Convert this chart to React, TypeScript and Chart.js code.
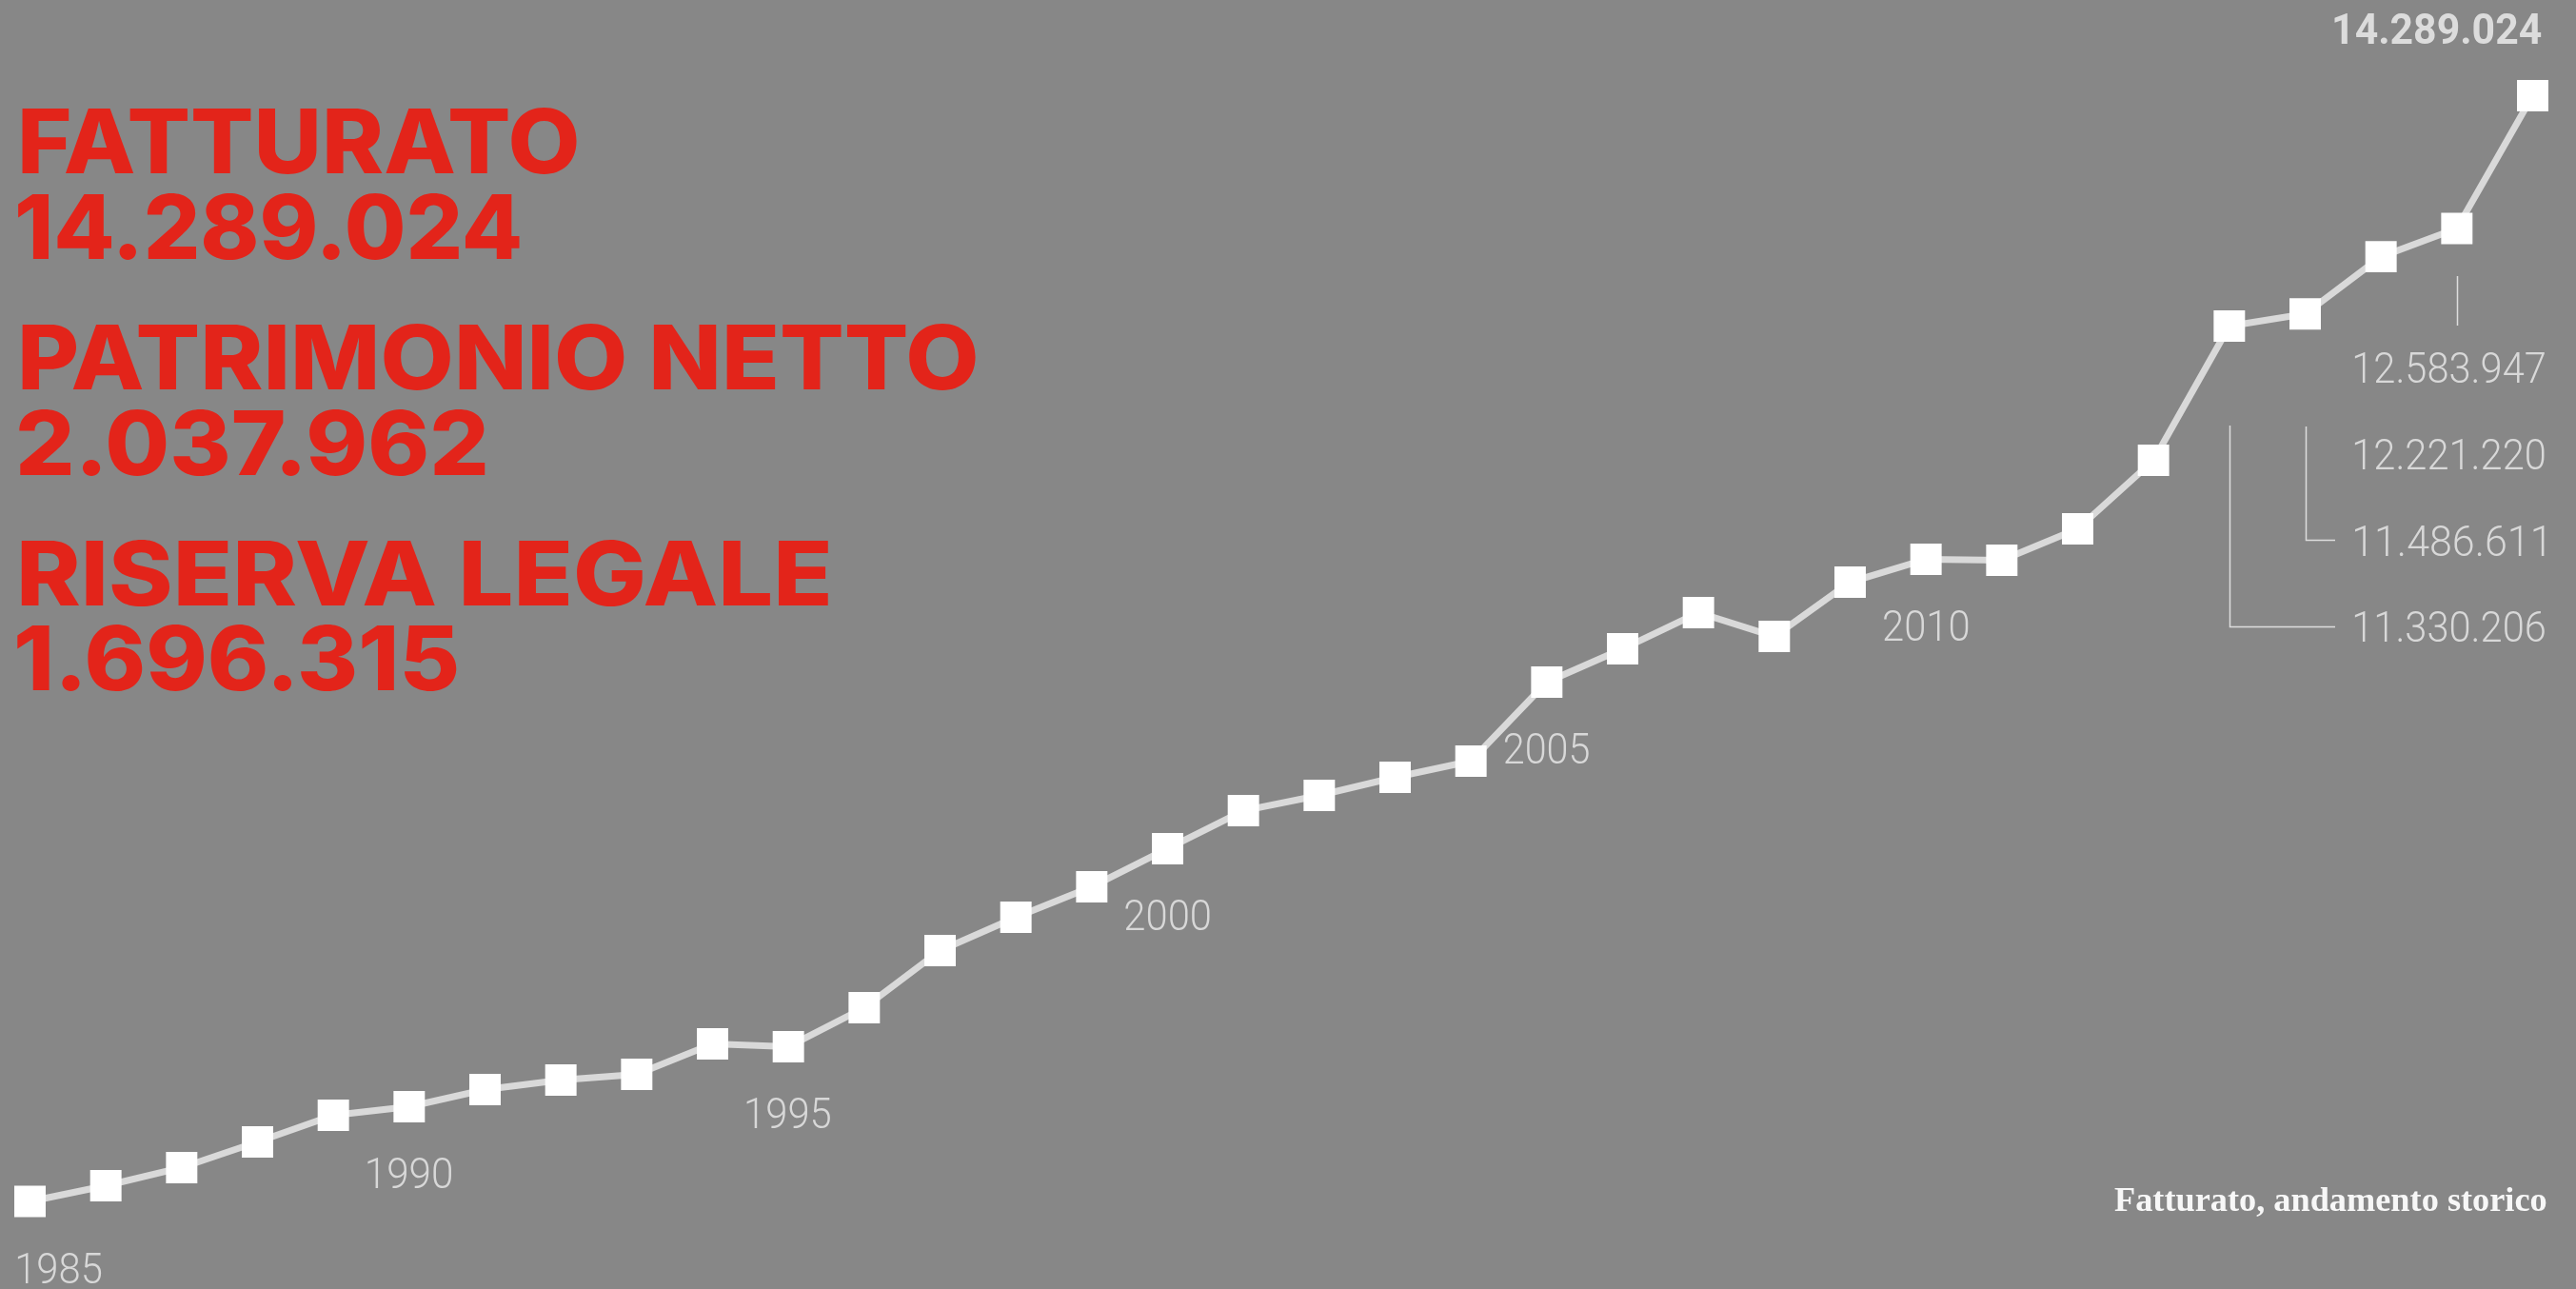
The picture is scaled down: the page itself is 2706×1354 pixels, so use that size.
import React, { useEffect, useMemo, useRef } from 'react';
import { Chart, registerables } from 'chart.js';

Chart.register(...registerables);

// ---------- DATA ----------
const years = [
  1985, 1986, 1987, 1988, 1989, 1990, 1991, 1992, 1993, 1994, 1995, 1996,
  1997, 1998, 1999, 2000, 2001, 2002, 2003, 2004, 2005, 2006, 2007, 2008,
  2009, 2010, 2011, 2012, 2013, 2014, 2015, 2016, 2017, 2018,
];
const fatturato = [
  88000, 290000, 522000, 852000, 1195000, 1305000, 1525000, 1647000, 1720000,
  2111000, 2075000, 2576000, 3310000, 3738000, 4129000, 4618000, 5107000,
  5303000, 5535000, 5743000, 6758000, 7185000, 7650000, 7344000, 8041000,
  8335000, 8323000, 8726000, 9606000, 11330206, 11486611, 12221220, 12583947,
  14289024,
];
const patrimonioNetto = 2037962;
const riservaLegale = 1696315;
const labelledYears = [1985, 1990, 1995, 2000, 2005, 2010];
const calloutYears = [2018, 2017, 2016, 2015, 2014];
const captionText = 'Fatturato, andamento storico';

// ---------- LAYOUT / STYLE ----------
const W = 2706;
const H = 1354;
const BG = '#878787';
const RED = '#e3241a';
const LIGHT = '#d8d8d8';
const X_MIN = 1984.6046;
const X_MAX = 2018.5711;
const Y_MIN = -1036811;
const Y_MAX = 15517780;

const YEAR_FONT = '300 44px Roboto, "DejaVu Sans", sans-serif';
const VALUE_FONT = '300 45px Roboto, "DejaVu Sans", sans-serif';
const BOLD_FONT = 'bold 44px Roboto, "DejaVu Sans", sans-serif';
const HEAD_FAMILY = 'Inter, "Open Sans", "Noto Sans", sans-serif';
const CAPTION_FAMILY = '"Liberation Serif", "DejaVu Serif", serif';

const calloutLayout: Record<number, any> = {
  2018: { baseline: 46, bold: true },
  2017: { baseline: 402, leaderTop: 290, leaderBottom: 342 },
  2016: { baseline: 493 },
  2015: { baseline: 584, leaderTop: 448, elbowY: 567 },
  2014: { baseline: 674, leaderTop: 447, elbowY: 658 },
};

const fmt = (n: number) => String(n).replace(/\B(?=(\d{3})+(?!\d))/g, '.');

function drawFit(
  ctx: CanvasRenderingContext2D,
  text: string,
  font: string,
  left: number,
  baseline: number,
  width: number
) {
  ctx.font = font;
  ctx.textAlign = 'left';
  ctx.textBaseline = 'alphabetic';
  const m = ctx.measureText(text);
  const ink = m.actualBoundingBoxLeft + m.actualBoundingBoxRight;
  const s = width / ink;
  ctx.save();
  ctx.translate(left, baseline);
  ctx.scale(s, 1);
  ctx.fillText(text, m.actualBoundingBoxLeft, 0);
  ctx.restore();
}

const annotationPlugin = {
  id: 'annotations',
  afterDatasetsDraw(chart: any) {
    const ctx: CanvasRenderingContext2D = chart.ctx;
    const xs = chart.scales.x;
    const ys = chart.scales.y;
    ctx.save();
    // year labels
    ctx.fillStyle = LIGHT;
    labelledYears.forEach((yr) => {
      const i = years.indexOf(yr);
      const px = xs.getPixelForValue(yr);
      const py = ys.getPixelForValue(fatturato[i]);
      const w = 88.5;
      const left = Math.max(18, px - w / 2);
      drawFit(ctx, String(yr), YEAR_FONT, left, py + 86, w);
    });
    // callouts
    calloutYears.forEach((yr) => {
      const i = years.indexOf(yr);
      const cfg = calloutLayout[yr];
      const px = Math.round(xs.getPixelForValue(yr)) + 0.5;
      const text = fmt(fatturato[i]);
      ctx.fillStyle = cfg.bold ? '#dcdcdc' : LIGHT;
      if (cfg.bold) drawFit(ctx, text, BOLD_FONT, 2452, cfg.baseline, 218);
      else drawFit(ctx, text, VALUE_FONT, 2473, cfg.baseline, 200);
      ctx.strokeStyle = '#dddddd';
      ctx.lineWidth = 1.5;
      if (cfg.leaderBottom) {
        ctx.beginPath();
        ctx.moveTo(px, cfg.leaderTop);
        ctx.lineTo(px, cfg.leaderBottom);
        ctx.stroke();
      } else if (cfg.elbowY) {
        ctx.beginPath();
        ctx.moveTo(px, cfg.leaderTop);
        ctx.lineTo(px, cfg.elbowY + 0.5);
        ctx.lineTo(2453, cfg.elbowY + 0.5);
        ctx.stroke();
      }
    });
    ctx.restore();
  },
};

function measure(text: string, font: string) {
  const c = document.createElement('canvas').getContext('2d')!;
  c.font = font;
  return c.measureText(text);
}

function fitLine(
  text: string,
  weight: string,
  family: string,
  cap: number,
  left: number,
  baseline: number,
  width: number
) {
  const capRatio = measure('H', `${weight} 100px ${family}`).actualBoundingBoxAscent / 100;
  const fs = cap / capRatio;
  const font = `${weight} ${fs}px ${family}`;
  const m = measure(text, font);
  const ink = m.actualBoundingBoxLeft + m.actualBoundingBoxRight;
  const s = width / ink;
  const A = m.fontBoundingBoxAscent;
  const D = m.fontBoundingBoxDescent;
  return {
    text,
    style: {
      position: 'absolute' as const,
      left: left + m.actualBoundingBoxLeft * s,
      top: baseline - A,
      font,
      lineHeight: `${A + D}px`,
      whiteSpace: 'nowrap' as const,
      transform: `scaleX(${s})`,
      transformOrigin: 'left top',
      margin: 0,
    },
  };
}

export default function App() {
  const ref = useRef<HTMLCanvasElement>(null);

  useEffect(() => {
    const chart = new Chart(ref.current!, {
      type: 'line',
      data: {
        datasets: [
          {
            data: years.map((y, i) => ({ x: y, y: fatturato[i] })),
            borderColor: '#d9d9d9',
            borderWidth: 7,
            tension: 0,
            pointStyle: 'rect',
            pointRadius: 23.3,
            pointHoverRadius: 23.3,
            pointBackgroundColor: '#ffffff',
            pointBorderWidth: 0,
            clip: false as any,
          },
        ],
      },
      options: {
        animation: false,
        responsive: false,
        maintainAspectRatio: false,
        devicePixelRatio: 1,
        events: [],
        layout: { padding: 0, autoPadding: false },
        plugins: { legend: { display: false }, tooltip: { enabled: false } },
        scales: {
          x: { type: 'linear', display: false, min: X_MIN, max: X_MAX },
          y: { type: 'linear', display: false, min: Y_MIN, max: Y_MAX },
        },
      },
      plugins: [annotationPlugin],
    });
    return () => chart.destroy();
  }, []);

  const lines = useMemo(() => {
    const head = [
      fitLine('FATTURATO', '800', HEAD_FAMILY, 68, 23, 182, 583),
      fitLine(fmt(fatturato[fatturato.length - 1]), '800', HEAD_FAMILY, 68, 19, 272, 527),
      fitLine('PATRIMONIO NETTO', '800', HEAD_FAMILY, 68, 23, 409, 1002),
      fitLine(fmt(patrimonioNetto), '800', HEAD_FAMILY, 68, 20, 499, 489),
      fitLine('RISERVA LEGALE', '800', HEAD_FAMILY, 68, 23, 636, 848),
      fitLine(fmt(riservaLegale), '800', HEAD_FAMILY, 68, 18, 725, 461),
    ];
    const cap = fitLine(captionText, 'bold', CAPTION_FAMILY, 23, 2221, 1272, 454);
    return { head, cap };
  }, []);

  return (
    <div
      style={{
        position: 'fixed',
        left: 0,
        top: 0,
        width: W,
        height: H,
        background: BG,
        overflow: 'hidden',
      }}
    >
      <canvas
        ref={ref}
        width={W}
        height={H}
        style={{ position: 'absolute', left: 0, top: 0, width: W, height: H }}
      />
      {lines.head.map((l, i) => (
        <div key={i} style={{ ...l.style, color: RED }}>
          {l.text}
        </div>
      ))}
      <div style={{ ...lines.cap.style, color: '#f7f7f7' }}>{lines.cap.text}</div>
    </div>
  );
}
